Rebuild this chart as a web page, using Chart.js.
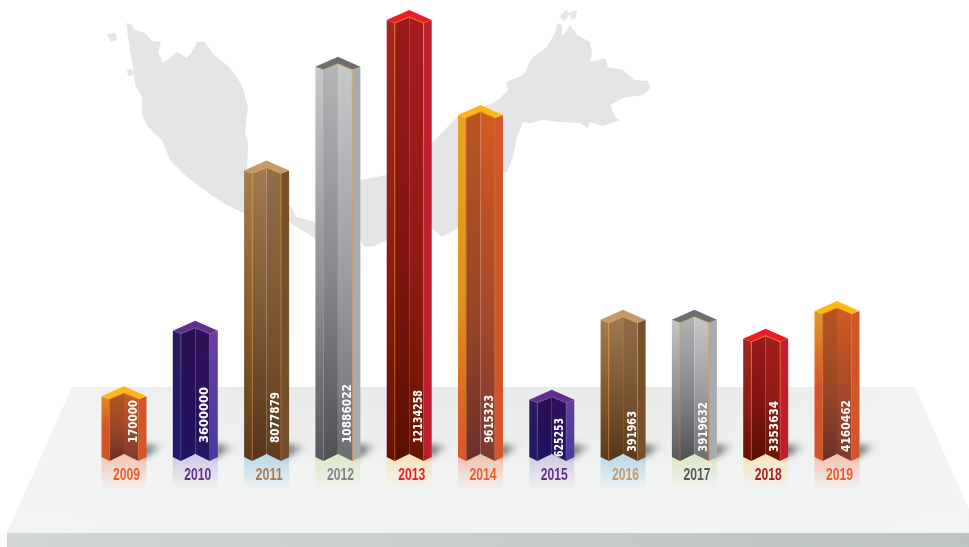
<!DOCTYPE html>
<html>
<head>
<meta charset="utf-8">
<style>html,body{margin:0;padding:0;background:#fff}canvas{display:block}</style>
<script src="https://cdn.jsdelivr.net/npm/chart.js@4"></script>
</head>
<body>
<canvas id="c" width="969" height="547"></canvas>
<script>
// ---- data ----
const years = ['2009','2010','2011','2012','2013','2014','2015','2016','2017','2018','2019'];
// figures printed on the columns
const printedAmounts = [170000,3600000,8077879,10886022,12134258,9615323,625253,391963,3919632,3353634,4160462];
// height of each column, in millions (the two smallest are drawn taller than their figure)
const columnHeights = [1.83,3.62,8.01,10.85,12.13,9.53,1.73,3.92,3.92,3.40,4.16];

// ---- styling ----
const themeOf = ['orange','purple','brown','silver','red','amber','purple','brown','silver','red','orange'];
const yearColors = ['#f15a29','#662d91','#a67c52','#808285','#ed1c24','#f15a29','#662d91','#c49a6c','#58595b','#9e1f1f','#f15a29'];
const reflectTints = ['#f2c4b0','#cfc9e2','#b5d8ea','#dbe8c4','#f8e4b8','#f2c0ae','#cfc9e2','#b5d8ea','#dbe8c4','#f8e4b8','#f2c0ae'];
const labelLift = [18,18,18,18,18,18,4,9,9,9,9];
const labelFit = [43,56,51,59,53,48,39,41,50,51,52];
const THEMES = {
  orange:{cap:'#fdb813',seam:'#d9662a',seamEnd:'#d9662a',f:[['#e3a321','#d6522a','#d2532a'],['#b9561f','#9a4726','#6d2f2b'],['#d65c22','#a9492a','#7e3930'],['#d2562a','#d2562a','#d2562a']]},
  amber:{cap:'#fdb813',seam:'#d9662a',seamEnd:'#d9662a',f:[['#e8a41f','#e0921f','#d6552a'],['#b9561f','#9a4726','#6d2f2b'],['#d65c22','#a9492a','#7e3930'],['#d2562a','#d2562a','#d2562a']]},
  purple:{cap:'#662d91',seam:'#6f5fa6',seamEnd:'#3f3a90',f:[['#2e1a5a','#241a60','#1f1a6c'],['#2c1050','#251058','#1d1560'],['#2f1158','#2a1260','#241663'],['#6a3f9c','#5a3d9c','#463a9c']]},
  brown:{cap:'#c49a6c',seam:'#e3a033',seamEnd:'#c96a30',f:[['#a97f4f','#85592e','#5c3a17'],['#a37c50','#7c5631','#54341a'],['#93704a','#795532','#5d3b1d'],['#7a5028','#77502a','#74502a']]},
  silver:{cap:'#6d6e70',seam:'#d9a050',seamEnd:'#c96a30',f:[['#c9cbcd','#8f9194','#58595b'],['#b4b6b8','#85878a','#4f5053'],['#c9cbcd','#9a9c9f','#6b6d70'],['#a9abae','#a9abae','#a9abae']]},
  red:{cap:'#ed1c24',seam:'#f7941d',seamEnd:'#c9501a',f:[['#a8261f','#8e1c14','#661000'],['#9a1a1c','#801410','#581000'],['#a81c1f','#8f1a14','#661500'],['#be1e2d','#be1e2d','#be1e2d']]}
};
const peninsula = [[126,23],[132,25],[133,29],[145,33],[152,41],[161,42],[158,52],[163,63],[172,56],[177,52],[187,58],[193,50],[197,42],[205,42],[212,53],[230,68],[242,85],[248,107],[245,132],[248,143],[247,170],[270,195],[292,208],[296,217],[313,221],[318,225],[318,240],[300,229],[289,222],[243,213],[223,203],[207,192],[187,177],[170,160],[162,140],[148,127],[142,115],[142,97],[135,85],[133,67],[130,50]];
const isles = [[[107,34],[116,33],[117,40],[111,42]],[[127,70],[132,69],[134,75],[128,76]],[[560,16],[566,10],[570,14],[564,22]],[[570,12],[577,10],[576,18],[571,20]]];
const borneo = [[340,186],[360,180],[387,175],[400,160],[432,143],[457,117],[493,103],[498,100],[508,90],[506,82],[523,75],[532,58],[547,47],[555,33],[558,23],[562,25],[562,37],[570,25],[577,35],[590,42],[592,53],[590,62],[605,58],[608,67],[623,70],[635,80],[648,81],[651,88],[643,95],[623,98],[610,105],[615,117],[620,120],[603,126],[590,122],[588,128],[580,123],[560,122],[543,120],[530,123],[523,122],[517,137],[513,157],[507,172],[503,172],[458,228],[442,237],[432,228],[387,240],[375,246],[365,247],[360,240],[340,235]];
const platformTop = [[72,387],[915,387],[969,510],[969,533],[7,533]];

function poly(ctx, pts){ctx.beginPath();pts.forEach((p,i)=>i?ctx.lineTo(p[0],p[1]):ctx.moveTo(p[0],p[1]));ctx.closePath();}

const scene = {
  id:'scene',
  beforeDraw(chart){
    const ctx = chart.ctx;
    ctx.save();
    ctx.fillStyle='#fff';ctx.fillRect(0,0,969,547);
    ctx.fillStyle='#e4e5e7';
    poly(ctx,peninsula);ctx.fill();
    poly(ctx,borneo);ctx.fill();
    isles.forEach(s=>{poly(ctx,s);ctx.fill();});
    const g=ctx.createLinearGradient(72,0,915,0);
    g.addColorStop(0,'#f1f3f2');g.addColorStop(.25,'#e8eaeb');g.addColorStop(.75,'#e8eaeb');g.addColorStop(1,'#f1f3f2');
    poly(ctx,platformTop);ctx.fillStyle=g;ctx.fill();
    const v=ctx.createLinearGradient(0,387,0,533);
    v.addColorStop(0,'rgba(242,243,243,0)');v.addColorStop(.6,'rgba(242,243,243,.9)');v.addColorStop(1,'rgba(242,243,243,1)');
    poly(ctx,platformTop);ctx.fillStyle=v;ctx.fill();
    const s=ctx.createLinearGradient(7,0,969,0);
    s.addColorStop(0,'#d2d6d6');s.addColorStop(1,'#bcc4c2');
    ctx.fillStyle=s;ctx.fillRect(7,533,962,14);
    chart.getDatasetMeta(0).data.forEach((el,i)=>{
      const w=el.width,L=el.x-w/2,R=el.x+w/2,B=chart.scales.y.bottom;
      const r=ctx.createLinearGradient(0,B-6,0,B+28);
      r.addColorStop(0,reflectTints[i]);r.addColorStop(1,reflectTints[i]+'00');
      ctx.fillStyle=r;ctx.fillRect(L,B-6,w,34);
      ctx.save();
      ctx.filter='blur(3px)';
      const d=ctx.createLinearGradient(R,0,R+19,0);
      d.addColorStop(0,'rgba(50,50,50,.7)');d.addColorStop(1,'rgba(110,110,110,0)');
      ctx.fillStyle=d;
      poly(ctx,[[R-3,B-17],[R+19,B-15],[R-3,B-3]]);ctx.fill();
      ctx.restore();
    });
    ctx.restore();
  },
  afterDatasetsDraw(chart){
    const ctx=chart.ctx,xs=chart.scales.x;
    chart.getDatasetMeta(0).data.forEach((el,i)=>{
      const th=THEMES[themeOf[i]],w=el.width,c=el.x,T=el.y,B=chart.scales.y.bottom;
      const L=c-w/2,R=c+w/2,lI=L+w*.18,rI=R-w*.18;
      const faces=[
        [[L,T+10],[lI,T+13],[lI,B],[L,B-4]],
        [[lI,T+13],[c,T+7],[c,B-7],[lI,B]],
        [[c,T+7],[rI,T+13],[rI,B],[c,B-7]],
        [[rI,T+13],[R,T+10],[R,B-4],[rI,B]]
      ];
      ctx.save();
      faces.forEach((pts,k)=>{
        const g=ctx.createLinearGradient(0,T,0,B);
        g.addColorStop(0,th.f[k][0]);g.addColorStop(.55,th.f[k][1]);g.addColorStop(1,th.f[k][2]);
        ctx.fillStyle=g;poly(ctx,pts);ctx.fill();
      });
      ctx.fillStyle=th.cap;
      poly(ctx,[[L,T+10],[c,T],[R,T+10],[rI,T+13],[c,T+7],[lI,T+13]]);ctx.fill();
      const sg=ctx.createLinearGradient(0,T,0,B);
      sg.addColorStop(0,th.seam);sg.addColorStop(1,th.seamEnd);
      ctx.strokeStyle=sg;ctx.lineWidth=.7;
      ctx.beginPath();
      ctx.moveTo(lI,B);ctx.lineTo(lI,T+13);ctx.lineTo(c,T+7);ctx.lineTo(rI,T+13);ctx.lineTo(rI,B);
      ctx.stroke();
      ctx.save();
      ctx.translate(c+(i===6?6:8),B-labelLift[i]);
      ctx.rotate(-Math.PI/2);
      ctx.fillStyle='#fff';
      ctx.font='bold 13px "DejaVu Sans"';
      ctx.textAlign='left';ctx.textBaseline='alphabetic';
      ctx.fillText(String(printedAmounts[i]),0,4.7,labelFit[i]);
      ctx.restore();
      // year label, narrowed to the reference's condensed lettering
      ctx.font='bold 16px "Liberation Sans"';
      ctx.textAlign='center';ctx.textBaseline='alphabetic';
      ctx.fillStyle=yearColors[i];
      ctx.fillText(xs.getLabelForValue(i),xs.getPixelForValue(i)+2.5,B+19,27);
      ctx.restore();
    });
  }
};

new Chart(document.getElementById('c'),{
  type:'bar',
  data:{labels:years,datasets:[{data:columnHeights,backgroundColor:'rgba(0,0,0,0)',borderWidth:0,barPercentage:.631,categoryPercentage:1}]},
  options:{
    responsive:false,animation:false,
    layout:{padding:{left:88.35,right:96.35,top:0,bottom:0}},
    plugins:{legend:{display:false},tooltip:{enabled:false}},
    scales:{
      x:{
        grid:{display:false},border:{display:false},
        afterFit(a){a.height=86;},
        ticks:{display:false}
      },
      y:{display:false,min:-.219,max:12.404}
    }
  },
  plugins:[scene]
});
</script>
</body>
</html>
